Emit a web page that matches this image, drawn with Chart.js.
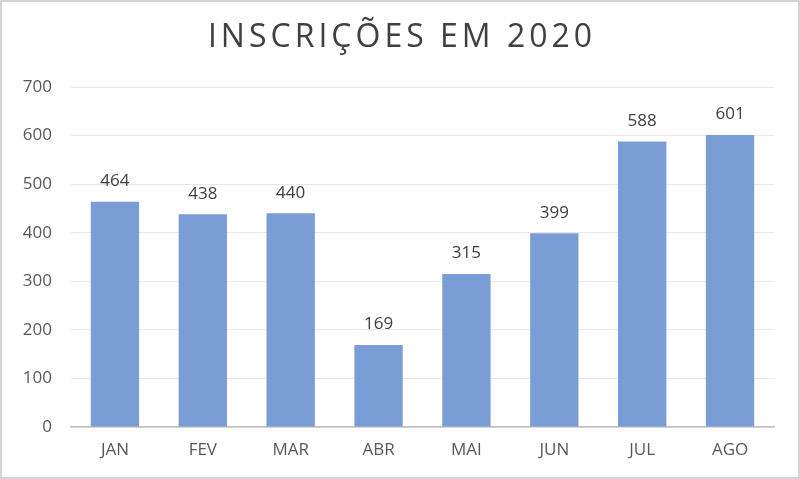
<!DOCTYPE html>
<html>
<head>
<meta charset="utf-8">
<script src="https://cdn.jsdelivr.net/npm/chart.js@4"></script>
<style>
    html, body { margin: 0; padding: 0; background: #fff; }
    #moldura { width: 800px; height: 479px; box-sizing: border-box; border: 2px solid #d4d4d4; }
</style>
</head>
<body>
<div id="moldura"><canvas id="grafico" width="796" height="475"></canvas></div>
<script>
const titulo = "INSCRIÇÕES EM 2020";
const meses = ["JAN", "FEV", "MAR", "ABR", "MAI", "JUN", "JUL", "AGO"];
const inscricoes = [464, 438, 440, 169, 315, 399, 588, 601];
const ticksEixoY = [0, 100, 200, 300, 400, 500, 600, 700];

const corBarra = "#7a9dd6";
const corTexto = "#595959";
const fonte = "'Open Sans', sans-serif";

// título com espaçamento entre letras (o plugin de título do Chart.js não tem isso)
const tituloEspacado = {
    id: "tituloEspacado",
    afterDraw(chart) {
        const ctx = chart.ctx;
        ctx.save();
        ctx.font = `32px ${fonte}`;
        ctx.letterSpacing = "4px";
        ctx.fillStyle = "#404040";
        ctx.textAlign = "center";
        ctx.textBaseline = "middle";
        ctx.fillText(titulo, chart.width / 2 + 2, 36);
        ctx.restore();
    }
};

// rótulos de valor em cima de cada barra
const rotulosDeValor = {
    id: "rotulosDeValor",
    afterDatasetsDraw(chart) {
        const ctx = chart.ctx;
        const meta = chart.getDatasetMeta(0);
        ctx.save();
        ctx.font = `17px ${fonte}`;
        ctx.fillStyle = "#404040";
        ctx.textAlign = "center";
        ctx.textBaseline = "bottom";
        meta.data.forEach((barra, i) => {
            ctx.fillText(chart.data.datasets[0].data[i], barra.x, barra.y - 12);
        });
        ctx.restore();
    }
};

new Chart(document.querySelector("#grafico"), {
    type: "bar",
    data: {
        labels: meses,
        datasets: [{
            label: "Inscrições",
            data: inscricoes,
            backgroundColor: corBarra,
            barPercentage: 0.55,
            categoryPercentage: 1
        }]
    },
    options: {
        responsive: false,
        animation: false,
        layout: { padding: { left: 13, right: 24, top: 85, bottom: 5 } },
        plugins: {
            legend: { display: false },
            tooltip: { enabled: false },
            title: { display: false }
        },
        scales: {
            x: {
                afterFit: eixo => { eixo.height = 45; },
                grid: { display: false, drawTicks: false },
                border: { display: true, color: "#bfbfbf", width: 1.5 },
                ticks: { color: corTexto, font: { family: fonte, size: 17 }, padding: 13 }
            },
            y: {
                min: 0,
                max: 700,
                afterBuildTicks: eixo => { eixo.ticks = ticksEixoY.map(v => ({ value: v })); },
                afterFit: eixo => { eixo.width = 56; },
                grid: { color: "#e8e8e8", drawTicks: false },
                border: { display: false },
                ticks: { color: corTexto, font: { family: fonte, size: 17 }, padding: 19 }
            }
        }
    },
    plugins: [rotulosDeValor, tituloEspacado]
});
</script>
</body>
</html>
